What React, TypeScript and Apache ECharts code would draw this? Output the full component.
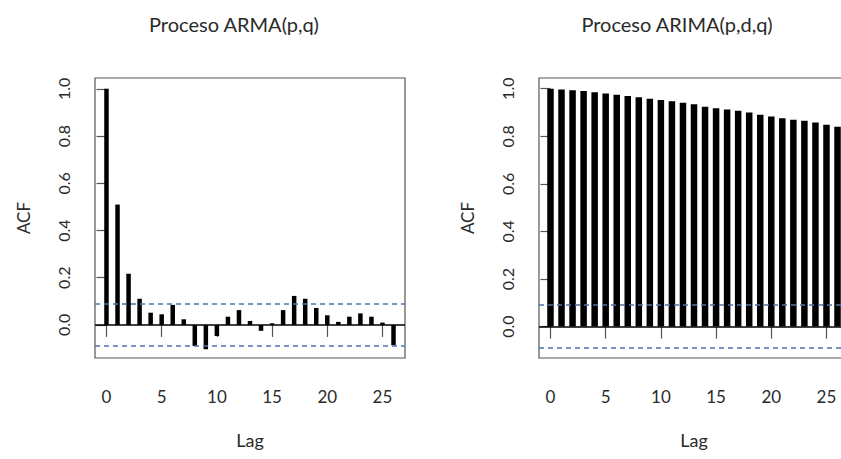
import React, { useEffect, useRef } from "react";
import * as echarts from "echarts";

const lags = Array.from({ length: 27 }, (_, i) => i);
const acfArma = [1.0, 0.51, 0.217, 0.111, 0.052, 0.045, 0.085, 0.024, -0.089, -0.103, -0.047, 0.035, 0.063, 0.017, -0.025, 0.007, 0.063, 0.123, 0.111, 0.072, 0.041, 0.013, 0.035, 0.049, 0.035, 0.01, -0.086];
const acfArima = [1.0, 0.997, 0.994, 0.99, 0.985, 0.98, 0.975, 0.969, 0.964, 0.958, 0.952, 0.947, 0.941, 0.935, 0.924, 0.918, 0.913, 0.907, 0.9, 0.89, 0.883, 0.876, 0.87, 0.865, 0.858, 0.848, 0.84];
const confArma = 0.088;
const confArima = 0.087;
const titles = ["Proceso ARMA(p,q)", "Proceso ARIMA(p,d,q)"];
const xTicks = [0, 5, 10, 15, 20, 25];
const yTicks = [0, 0.2, 0.4, 0.6, 0.8, 1.0];

const FONT = "Lato, 'Open Sans', sans-serif";
const TXT = "#2a2a2a";
const AX = "#555";

export default function App() {
  const ref = useRef<HTMLDivElement>(null);
  useEffect(() => {
    if (!ref.current) return;
    const chart = echarts.init(ref.current, undefined, { renderer: "svg" });
    const grids = [
      { left: 95, top: 78, width: 310, height: 280 },
      { left: 539, top: 78, width: 310, height: 280 },
    ];
    const yRanges = [
      [-0.14, 1.046],
      [-0.132, 1.045],
    ];
    const mkX = (i: number) => ({
      type: "value",
      gridIndex: i,
      min: -1.04,
      max: 27.04,
      name: "Lag",
      nameLocation: "middle",
      nameGap: 73,
      nameTextStyle: { fontFamily: FONT, fontSize: 18, color: TXT },
      axisLine: { show: false },
      splitLine: { show: false },
      axisTick: { show: true, customValues: xTicks, length: 12, lineStyle: { color: AX, width: 1.2 } },
      axisLabel: { customValues: xTicks, margin: 30, fontFamily: FONT, fontSize: 17, color: TXT },
    });
    const mkY = (i: number) => ({
      type: "value",
      gridIndex: i,
      min: yRanges[i][0],
      max: yRanges[i][1],
      name: "ACF",
      nameLocation: "middle",
      nameGap: 63,
      nameRotate: 90,
      nameTextStyle: { fontFamily: FONT, fontSize: 17, color: TXT },
      axisLine: { show: false },
      splitLine: { show: false },
      axisTick: { show: true, customValues: yTicks, length: 10, lineStyle: { color: AX, width: 1.2 } },
      axisLabel: {
        customValues: yTicks,
        rotate: 90,
        margin: 24,
        fontFamily: FONT,
        fontSize: 16,
        color: TXT,
        formatter: (v: number) => v.toFixed(1),
      },
    });
    const mkSeries = (i: number, vals: number[], conf: number, bw: number) => ({
      type: "bar",
      xAxisIndex: i,
      yAxisIndex: i,
      barWidth: bw,
      data: lags.map((l, k) => [l, vals[k]]),
      itemStyle: { color: "#000" },
      silent: true,
      markLine: {
        symbol: "none",
        silent: true,
        label: { show: false },
        data: [
          { yAxis: conf, lineStyle: { color: "#4f73ad", type: [5, 4], width: 1.5 } },
          { yAxis: -conf, lineStyle: { color: "#4f73ad", type: [5, 4], width: 1.5 } },
          { yAxis: 0, lineStyle: { color: "#000", type: "solid", width: 1.5 } },
        ],
      },
    });
    chart.setOption({
      animation: false,
      backgroundColor: "#fff",
      grid: grids.map((g) => ({ ...g, show: true, borderColor: AX, borderWidth: 1.2, backgroundColor: "transparent" })),
      xAxis: [mkX(0), mkX(1)],
      yAxis: [mkY(0), mkY(1)],
      series: [mkSeries(0, acfArma, confArma, 4.5), mkSeries(1, acfArima, confArima, 6.5)],
      graphic: [
        { type: "text", x: 234, y: 24, style: { text: titles[0], textAlign: "center", textVerticalAlign: "middle", font: `20px ${FONT}`, fill: TXT } },
        { type: "text", x: 677, y: 24, style: { text: titles[1], textAlign: "center", textVerticalAlign: "middle", font: `20px ${FONT}`, fill: TXT } },
      ],
    });
    return () => chart.dispose();
  }, []);
  return <div ref={ref} style={{ position: "fixed", left: 0, top: 0, width: 870, height: 459 }} />;
}
